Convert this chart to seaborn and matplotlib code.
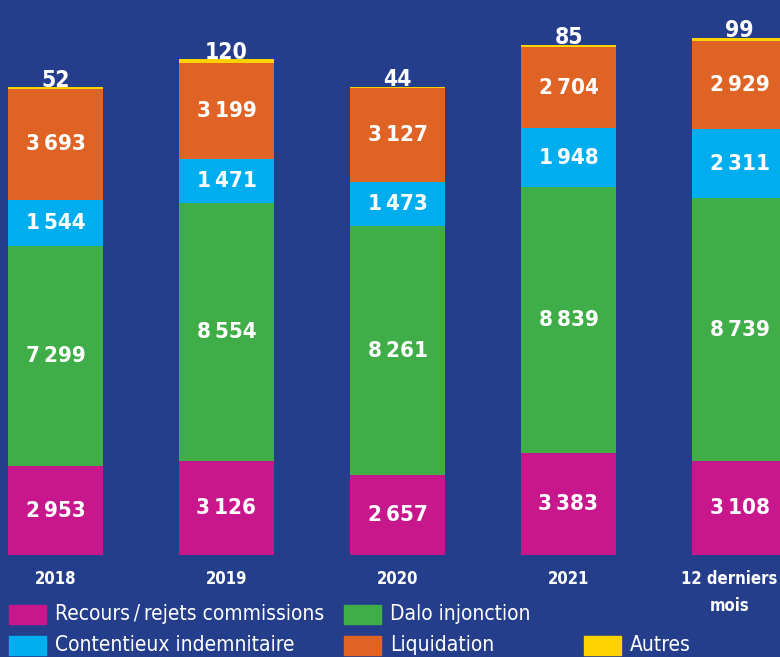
import matplotlib
matplotlib.use("Agg")
import numpy as np
import pandas as pd
import matplotlib.pyplot as plt
import seaborn as sns
from matplotlib.patches import Rectangle
from matplotlib.transforms import ScaledTranslation

# Values, bottom layer first
periods = ["2018", "2019", "2020", "2021", "12 derniers\nmois"]
recours = [2953, 3126, 2657, 3383, 3108]
dalo = [7299, 8554, 8261, 8839, 8739]
contentieux = [1544, 1471, 1473, 1948, 2311]
liquidation = [3693, 3199, 3127, 2704, 2929]
autres = [52, 120, 44, 85, 99]

series_names = ["Recours\u2009/\u2009rejets commissions", "Dalo injonction",
                "Contentieux indemnitaire", "Liquidation", "Autres"]
series_colors = ["#c8178c", "#3fae49", "#00aeef", "#e06326", "#ffd200"]

bg = "#253e8c"
W, H = 780, 657

sns.set_theme(style="white")
plt.rcParams["font.family"] = ["DejaVu Sans"]
plt.rcParams["font.stretch"] = "condensed"

fig = plt.figure(figsize=(W / 100, H / 100), dpi=100, facecolor=bg)
ax = fig.add_axes([0, 102 / H, 1, 555 / H])
ax.set_facecolor(bg)

df = pd.DataFrame({"period": periods, "recours": recours, "dalo": dalo,
                   "contentieux": contentieux, "liquidation": liquidation,
                   "autres": autres})
layers = ["recours", "dalo", "contentieux", "liquidation", "autres"]
cum = df[layers].cumsum(axis=1)

# stacked bars: draw the cumulative totals from the top layer down
for i in reversed(range(len(layers))):
    sns.barplot(x=df["period"], y=cum[layers[i]], color=series_colors[i],
                saturation=1, width=0.556, linewidth=0, errorbar=None, ax=ax)

def fmt(v):
    return f"{v:,}".replace(",", "\u2009")

for i, col in enumerate(layers[:-1]):
    for j, v in enumerate(df[col]):
        ax.text(j, cum[col][j] - v / 2, fmt(v), ha="center", va="center",
                color="white", fontsize=16, fontweight="bold",
                fontstretch="condensed")

for j, v in enumerate(df["autres"]):
    ax.text(j, cum["autres"][j] + 20, fmt(v), ha="center", va="baseline",
            color="white", fontsize=16.5, fontweight="bold",
            fontstretch="condensed")

ax.set_xlim(-55.5 / 171, (W - 55.5) / 171)
ax.set_ylim(0, 555 / 0.0301)
ax.set_xticks(range(len(periods)))
ax.set_xticklabels(periods, color="white", fontsize=12, fontweight="bold",
                   linespacing=1.6, fontstretch="condensed")
ax.tick_params(axis="x", length=0, pad=11)
# last label sits against the right edge in the original
last = ax.get_xticklabels()[-1]
last.set_transform(last.get_transform() + ScaledTranslation(-10 / 100, 0, fig.dpi_scale_trans))
ax.set_yticks([])
ax.set_xlabel("")
ax.set_ylabel("")
for s in ax.spines.values():
    s.set_visible(False)

# legend laid out as in the original, in pixel positions
legend_items = [(0, 9, 614), (1, 344, 614), (2, 9, 645), (3, 344, 645), (4, 584, 645)]
for idx, x, yc in legend_items:
    fig.patches.append(Rectangle((x / W, 1 - (yc + 9.5) / H), 37 / W, 19 / H,
                                 transform=fig.transFigure,
                                 color=series_colors[idx]))
    fig.text((x + 46) / W, 1 - yc / H, series_names[idx], ha="left",
             va="center", color="white", fontsize=15, fontstretch="condensed")

fig.savefig("out.png", dpi=100, facecolor=bg)
